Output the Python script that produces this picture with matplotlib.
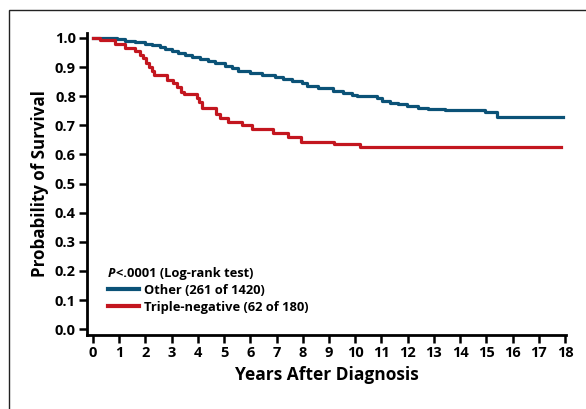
import matplotlib
matplotlib.use("Agg")
import matplotlib.pyplot as plt
from matplotlib.patches import Rectangle

# Kaplan-Meier step points (years, survival probability)
other_years = [0, 0.92, 1.22, 1.60, 1.98, 2.25, 2.56, 2.75, 3.01, 3.24, 3.51, 3.78,
               4.08, 4.39, 4.65, 5.03, 5.30, 5.53, 5.99, 6.45, 6.94, 7.25, 7.59,
               7.97, 8.16, 8.58, 9.15, 9.53, 9.88, 10.07, 10.83, 11.02, 11.33,
               11.63, 11.98, 12.39, 12.78, 13.42, 14.95, 15.41, 17.93]
other_surv = [1.0, 0.995, 0.99, 0.985, 0.98, 0.975, 0.97, 0.962, 0.955, 0.948, 0.943,
              0.935, 0.928, 0.92, 0.914, 0.904, 0.896, 0.887, 0.88, 0.873, 0.866,
              0.859, 0.852, 0.845, 0.835, 0.828, 0.818, 0.811, 0.804, 0.80, 0.794,
              0.784, 0.778, 0.773, 0.766, 0.76, 0.756, 0.752, 0.746, 0.729, 0.729]

tn_years = [0, 0.27, 0.84, 1.22, 1.60, 1.79, 1.91, 2.02, 2.14, 2.25, 2.33, 2.82,
            3.05, 3.20, 3.36, 3.47, 3.97, 4.04, 4.16, 4.69, 4.84, 5.15, 5.68, 6.06,
            6.86, 7.44, 7.93, 9.19, 10.18, 17.85]
tn_surv = [1.0, 0.993, 0.979, 0.966, 0.955, 0.942, 0.93, 0.915, 0.90, 0.885, 0.873,
           0.856, 0.845, 0.83, 0.815, 0.808, 0.795, 0.78, 0.76, 0.74, 0.725, 0.711,
           0.70, 0.687, 0.673, 0.66, 0.643, 0.636, 0.624, 0.624]

labels = ["Other (261 of 1420)", "Triple-negative (62 of 180)"]
colors = ["#0b5277", "#c3161f"]

plt.rcParams['font.family'] = ['Open Sans', 'DejaVu Sans']
plt.rcParams['font.weight'] = 'bold'

fig = plt.figure(figsize=(5.86, 4.09), dpi=100)
# thin frame around the panel
fig.patches.append(Rectangle((9 / 586, -0.1), 1.2, 1.1 - 10 / 409, transform=fig.transFigure,
                             fill=False, edgecolor='#222222', linewidth=1.0))
ax = fig.add_axes([87 / 586, 1 - 335 / 409, 479 / 586, 302 / 409])

ax.step(other_years, other_surv, where='post', color=colors[0], lw=2.3, label=labels[0])
ax.step(tn_years, tn_surv, where='post', color=colors[1], lw=2.3, label=labels[1])

ax.set_xlim(-0.23, 18.04)
ax.set_ylim(-0.02, 1.017)
ax.set_xticks(range(0, 19))
ax.set_yticks([i / 10 for i in range(11)])
ax.set_yticklabels([f"{i / 10:.1f}" for i in range(11)])

for s in ['top', 'right']:
    ax.spines[s].set_visible(False)
for s in ['left', 'bottom']:
    ax.spines[s].set_linewidth(2.0)
ax.tick_params(axis='both', direction='out', length=6, width=1.8, labelsize=10.5, pad=2)

ax.set_xlabel("Years After Diagnosis", fontsize=12.5, fontweight='bold', labelpad=4)
ax.set_ylabel("Probability of Survival", fontsize=12.2, fontweight='bold', labelpad=4)

leg = ax.legend(loc='center left', bbox_to_anchor=(0.044, 0.12), frameon=False,
                fontsize=9.3, handlelength=2.4, handletextpad=0.35, labelspacing=0.3,
                borderpad=0, borderaxespad=0)
for line in leg.get_lines():
    line.set_linewidth(3)

p = ax.text(0.044, 0.205, "P", transform=ax.transAxes, fontsize=9.3,
            fontweight='bold', style='italic', va='center', ha='left')
ax.annotate("<.0001 (Log-rank test)", xy=(1, 0.5), xycoords=p, va='center', ha='left',
            fontsize=9.3, fontweight='bold')

fig.savefig("out.png", dpi=100)
